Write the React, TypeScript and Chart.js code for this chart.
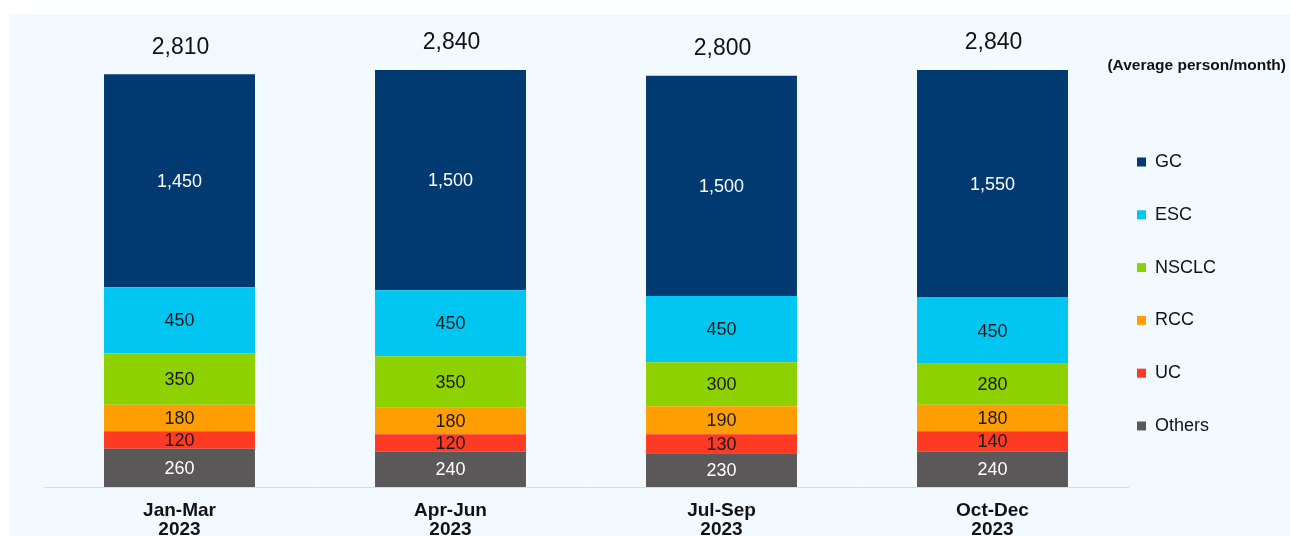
import React, { useEffect, useRef } from "react";
import { Chart, registerables } from "chart.js";

Chart.register(...registerables);

const categories: string[][] = [
  ["Jan-Mar", "2023"],
  ["Apr-Jun", "2023"],
  ["Jul-Sep", "2023"],
  ["Oct-Dec", "2023"],
];

// stacked bottom -> top
const othersValues = [260, 240, 230, 240];
const ucValues = [120, 120, 130, 140];
const rccValues = [180, 180, 190, 180];
const nsclcValues = [350, 350, 300, 280];
const escValues = [450, 450, 450, 450];
const gcValues = [1450, 1500, 1500, 1550];
const totalValues = [2810, 2840, 2800, 2840];

const seriesNames = ["Others", "UC", "RCC", "NSCLC", "ESC", "GC"];
const seriesColors = ["#5a5858", "#fd3a24", "#ff9e03", "#8ed100", "#00c6f1", "#003a71"];
const labelColors = ["#ffffff", "#1a1a1a", "#1a1a1a", "#1a1a1a", "#1a1a1a", "#ffffff"];
const unitLabel = "(Average person/month)";

const FONT = "'Liberation Sans', Arial, Helvetica, sans-serif";

export default function App() {
  const ref = useRef<HTMLCanvasElement | null>(null);

  useEffect(() => {
    const canvas = ref.current;
    if (!canvas) return;
    const seriesValues = [othersValues, ucValues, rccValues, nsclcValues, escValues, gcValues];

    const labelPlugin = {
      id: "valueLabels",
      afterDatasetsDraw(chart: any) {
        const ctx = chart.ctx;
        ctx.save();
        ctx.textAlign = "center";
        ctx.textBaseline = "middle";
        chart.data.datasets.forEach((ds: any, di: number) => {
          const meta = chart.getDatasetMeta(di);
          meta.data.forEach((el: any, i: number) => {
            const v = ds.data[i];
            const cy = (el.y + el.base) / 2;
            ctx.font = `18px ${FONT}`;
            ctx.fillStyle = labelColors[di];
            ctx.fillText(v.toLocaleString("en-US"), el.x, cy + 1);
          });
        });
        const topMeta = chart.getDatasetMeta(chart.data.datasets.length - 1);
        topMeta.data.forEach((el: any, i: number) => {
          ctx.font = `23px ${FONT}`;
          ctx.fillStyle = "#111111";
          ctx.fillText(totalValues[i].toLocaleString("en-US"), el.x + 1, el.y - 27);
        });
        ctx.font = `bold 15.5px ${FONT}`;
        ctx.textAlign = "right";
        ctx.fillStyle = "#111111";
        ctx.fillText(unitLabel, 1286, 66);
        ctx.restore();
      },
    };

    const chart = new Chart(canvas, {
      type: "bar",
      data: {
        labels: categories,
        datasets: seriesNames.map((name, i) => ({
          label: name,
          data: seriesValues[i],
          backgroundColor: seriesColors[i],
          borderWidth: 0,
          categoryPercentage: 1,
          barPercentage: 0.557,
        })),
      },
      options: {
        responsive: false,
        animation: false,
        devicePixelRatio: 1,
        layout: { padding: { left: 44, right: 72, top: 17, bottom: 0 } },
        scales: {
          x: {
            stacked: true,
            grid: { display: false },
            border: { display: true, color: "#d8dde0", width: 1 },
            ticks: {
              color: "#111111",
              padding: 6,
              font: { family: FONT, size: 19, weight: "bold", lineHeight: "19.5px" },
            },
            afterFit(scale: any) {
              scale.height = 49;
            },
          },
          y: {
            stacked: true,
            display: false,
            min: 0,
            max: 3200,
          },
        },
        plugins: {
          tooltip: { enabled: false },
          legend: {
            position: "right",
            align: "start",
            reverse: true,
            maxWidth: 90,
            title: { display: true, text: "", font: { size: 12 }, padding: { top: 112.6, bottom: 0 } },
            labels: {
              boxWidth: 9,
              boxHeight: 9,
              padding: 9,
              color: "#111111",
              font: { family: FONT, size: 18, lineHeight: 2.433 },
              generateLabels(chart: any) {
                const items = Chart.defaults.plugins.legend.labels.generateLabels(chart);
                return items.map((it: any) => ({ ...it, text: [it.text], lineWidth: 0 }));
              },
            },
          },
        },
      },
      plugins: [labelPlugin],
    } as any);

    return () => chart.destroy();
  }, []);

  return (
    <div style={{ position: "absolute", left: 0, top: 0, width: 1290, height: 536, background: "#ffffff", overflow: "hidden" }}>
      <div style={{ position: "absolute", left: 9, top: 14, right: 0, bottom: 0, background: "#f3faff" }} />
      <canvas ref={ref} width={1290} height={536} style={{ position: "absolute", left: 0, top: 0, width: 1290, height: 536 }} />
    </div>
  );
}
